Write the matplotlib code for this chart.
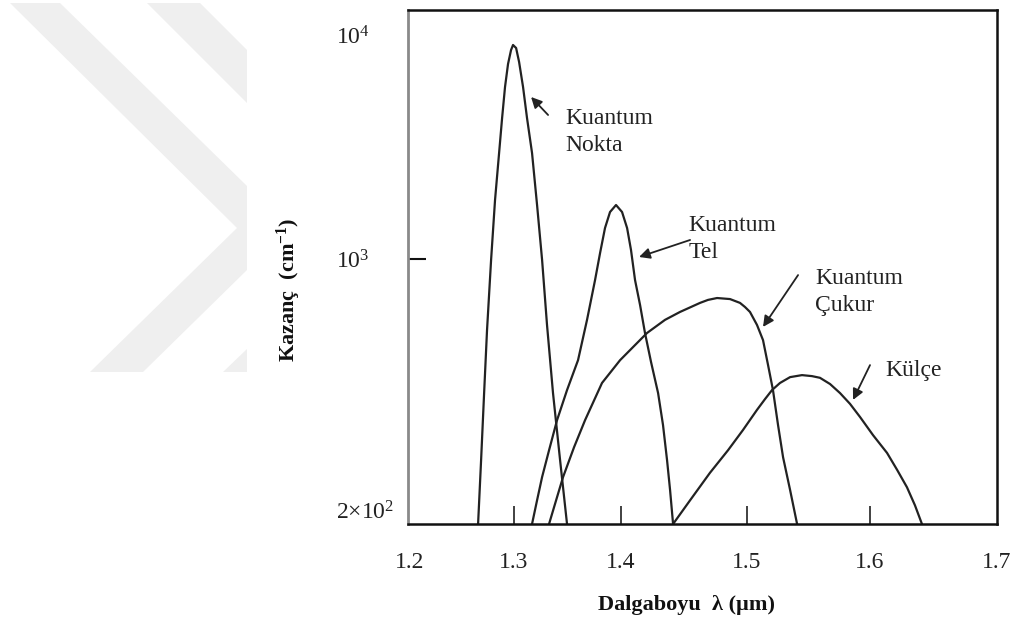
#!/usr/bin/env python3
"""
Gain spectra of quantum dot / wire / well and bulk material
(schematic, log gain axis). Saves out.png.
"""

import numpy as np
import matplotlib
matplotlib.use("Agg")
import matplotlib.pyplot as plt
from matplotlib.patches import Polygon
from matplotlib.ticker import NullLocator

plt.rcParams["font.family"] = "Liberation Serif"
plt.rcParams["mathtext.fontset"] = "custom"
plt.rcParams["mathtext.rm"] = "Liberation Serif"
plt.rcParams["mathtext.it"] = "Liberation Serif:italic"
plt.rcParams["mathtext.bf"] = "Liberation Serif:bold"

# ---- data (wavelength in um, gain in cm^-1) ----
nokta_wl = [1.2654, 1.2683, 1.2712, 1.2740, 1.2779, 1.2817, 1.2856, 1.2885,
            1.2913, 1.2942, 1.2971, 1.2990, 1.3019, 1.3047, 1.3084, 1.3121,
            1.3168, 1.3215, 1.3262, 1.3308, 1.3364, 1.3430, 1.3495]
nokta_g = [200, 295, 443, 649, 994, 1834, 2973, 4262, 5860, 7423, 8570, 9024,
           8750, 7579, 5860, 4262, 2973, 1742, 994, 670, 443, 295, 200]

tel_wl = [1.3168, 1.3215, 1.3262, 1.3327, 1.3402, 1.3495, 1.3598, 1.3682,
          1.3757, 1.3804, 1.3850, 1.3897, 1.3953, 1.4008, 1.4048, 1.4079,
          1.4111, 1.4151, 1.4190, 1.4238, 1.4294, 1.4333, 1.4365, 1.4389, 1.4413]
tel_g = [200, 231, 266, 313, 376, 451, 541, 691, 880, 1064, 1375, 1621, 1742,
         1621, 1375, 1097, 880, 756, 638, 535, 443, 365, 295, 246, 200]

cukur_wl = [1.3327, 1.3393, 1.3458, 1.3561, 1.3664, 1.3822, 1.3991, 1.4206,
            1.4349, 1.4468, 1.4627, 1.4690, 1.4762, 1.4865, 1.4944, 1.4984,
            1.5024, 1.5081, 1.5130, 1.5171, 1.5211, 1.5252, 1.5293, 1.5350,
            1.5407]
cukur_g = [200, 231, 266, 319, 376, 471, 541, 638, 691, 725, 766, 780, 789,
           784, 766, 747, 725, 670, 611, 525, 451, 365, 300, 246, 200]

kulce_wl = [1.4413, 1.4548, 1.4706, 1.4849, 1.4968, 1.5081, 1.5146, 1.5203,
            1.5268, 1.5350, 1.5447, 1.5528, 1.5593, 1.5675, 1.5756, 1.5837,
            1.5919, 1.6024, 1.6134, 1.6213, 1.6291, 1.6354, 1.6409]
kulce_g = [200, 231, 273, 313, 354, 400, 427, 451, 471, 488, 494, 491, 486,
           468, 443, 415, 383, 343, 308, 278, 250, 224, 200]

xticks = [1.2, 1.3, 1.4, 1.5, 1.6, 1.7]
xtick_labels = ["1.2", "1.3", "1.4", "1.5", "1.6", "1.7"]
yticks = [200, 1000, 10000]
ytick_labels = [r"2$\times$10$^2$", r"10$^3$", r"10$^4$"]

# ---- the original axes are hand drawn, so tick spacing is uneven ----
# calibration of the schematic axes (tick value -> relative position)
X_KNOTS = [1.0, 1.2, 1.3, 1.4, 1.5, 1.6, 1.7, 1.9]
X_POS = [202, 410, 514, 621, 747, 870, 997, 1251]
Y_LOG_KNOTS = [1.0, np.log10(200), 3.0, 4.0, 6.0]
Y_POS = [-1017, -524, -259, -35, 413]


def x_fwd(v):
    return np.interp(v, X_KNOTS, X_POS)


def x_inv(p):
    return np.interp(p, X_POS, X_KNOTS)


def y_fwd(v):
    v = np.clip(np.asarray(v, dtype=float), 1e-6, None)
    return np.interp(np.log10(v), Y_LOG_KNOTS, Y_POS)


def y_inv(p):
    return 10 ** np.interp(p, Y_POS, Y_LOG_KNOTS)


fig = plt.figure(figsize=(10.15, 6.22), dpi=100)

# faint watermark in the background
bg = fig.add_axes([0, 0, 1, 1], zorder=-1)
bg.set_xlim(0, 1015)
bg.set_ylim(622, 0)
bg.axis("off")
wm = "#efefef"
bg.add_patch(Polygon([(10, 3), (60, 3), (247, 186), (247, 270), (143, 372),
                      (90, 372), (237, 228)], closed=True, color=wm, lw=0))
bg.add_patch(Polygon([(147, 3), (200, 3), (247, 50), (247, 103)],
                     closed=True, color=wm, lw=0))
bg.add_patch(Polygon([(223, 372), (247, 349), (247, 372)],
                     closed=True, color=wm, lw=0))

ax = fig.add_axes([408 / 1015, 98 / 622, 589 / 1015, 514 / 622])
ax.set_facecolor("none")
ax.set_xscale("function", functions=(x_fwd, x_inv))
ax.set_yscale("function", functions=(y_fwd, y_inv))

line_kw = dict(color="#222222", lw=1.6, solid_joinstyle="round",
               solid_capstyle="round")
ax.plot(nokta_wl, nokta_g, **line_kw)
ax.plot(tel_wl, tel_g, **line_kw)
ax.plot(cukur_wl, cukur_g, **line_kw)
ax.plot(kulce_wl, kulce_g, **line_kw)

ax.set_xlim(1.198, 1.7)
ax.set_ylim(200, 12930)

ax.set_xticks(xticks)
ax.set_xticklabels(xtick_labels)
ax.set_yticks(yticks)
ax.set_yticklabels(ytick_labels, ha="left")
ax.xaxis.set_minor_locator(NullLocator())
ax.yaxis.set_minor_locator(NullLocator())

ax.tick_params(axis="x", direction="in", length=13, width=1.3, color="#333333",
               pad=20, labelsize=17, labelcolor="#222222")
ax.tick_params(axis="y", direction="in", length=13, width=1.5, color="#111111",
               pad=52, labelsize=17, labelcolor="#222222")
# the end ticks are not drawn in the original
xt = ax.xaxis.get_major_ticks()
xt[0].tick1line.set_visible(False)
xt[-1].tick1line.set_visible(False)
for i, t in enumerate(ax.yaxis.get_major_ticks()):
    if i != 1:
        t.tick1line.set_visible(False)
ax.yaxis.get_ticklabels()[0].set_verticalalignment("bottom")

for side in ["top", "bottom", "right"]:
    ax.spines[side].set_color("#111111")
    ax.spines[side].set_linewidth(1.8)
ax.spines["left"].set_color("#8a8a8a")
ax.spines["left"].set_linewidth(2.0)

# labels with arrows
arrow_kw = dict(arrowstyle="-|>", color="#222222", lw=1.3,
                mutation_scale=16, shrinkA=0, shrinkB=0)
txt_kw = dict(ha="left", va="center", fontsize=17, linespacing=1.35,
              color="#222222")

ax.annotate("", xy=(1.3159, 5287), xytext=(1.3318, 4395), arrowprops=arrow_kw)
ax.text(1.3477, 3690, "Kuantum\nNokta", **txt_kw)

ax.annotate("", xy=(1.4143, 1021), xytext=(1.4548, 1216), arrowprops=arrow_kw)
ax.text(1.4532, 1228, "Kuantum\nTel", **txt_kw)

ax.annotate("", xy=(1.5130, 662), xytext=(1.5415, 907), arrowprops=arrow_kw)
ax.text(1.5553, 818, "Kuantum\nÇukur", **txt_kw)

ax.annotate("", xy=(1.5862, 425), xytext=(1.6000, 525), arrowprops=arrow_kw)
ax.text(1.6118, 509, "Külçe", **txt_kw)

# axis titles
fig.text(686 / 1015, 1 - 605 / 622, "Dalgaboyu  λ (µm)", ha="center",
         va="center", fontsize=16, fontweight="bold", color="#111111")
fig.text(289 / 1015, 1 - 290 / 622, r"Kazanç  (cm$^{\mathbf{-1}}$)",
         ha="center", va="center", rotation=90, fontsize=16,
         fontweight="bold", color="#111111")

fig.savefig("out.png", dpi=100)
